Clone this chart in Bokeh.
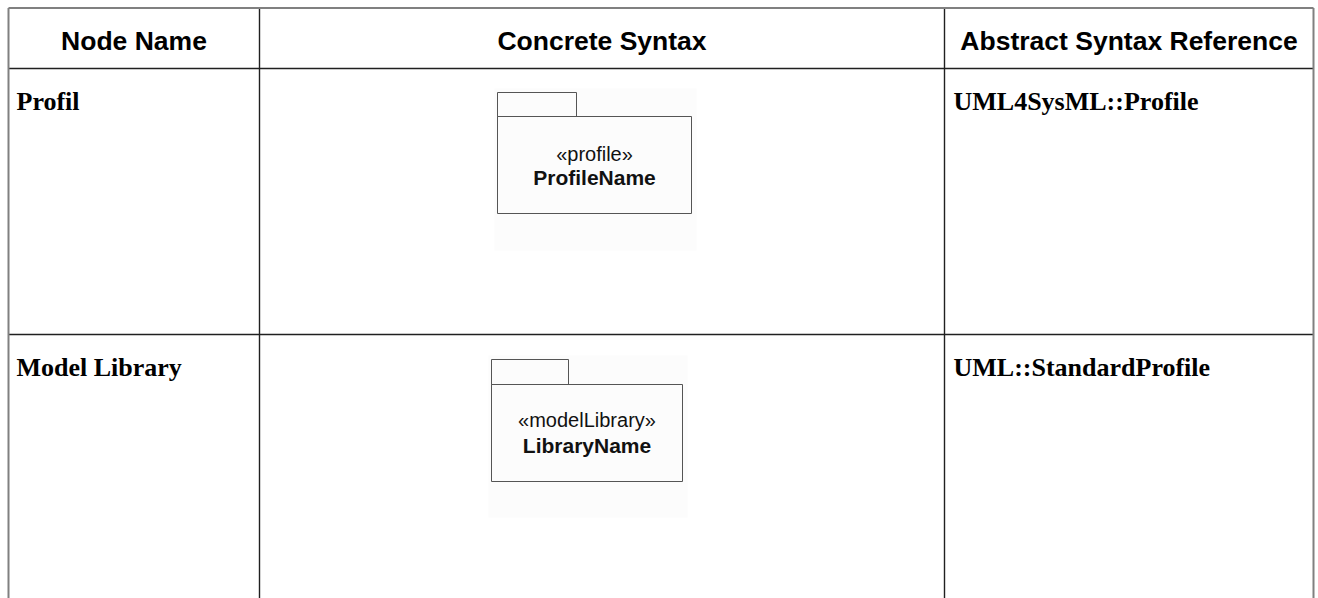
from bokeh.plotting import figure
from bokeh.models import Range1d, ColumnDataSource
from bokeh.core.properties import value
from bokeh.embed import file_html
from bokeh.resources import INLINE

# ---- data ----
headers = ["Node Name", "Concrete Syntax", "Abstract Syntax Reference"]
node_names = ["Profil", "Model Library"]
stereotypes = ["«profile»", "«modelLibrary»"]
element_names = ["ProfileName", "LibraryName"]
abstract_refs = ["UML4SysML::Profile", "UML::StandardProfile"]

# ---- layout (screen pixel coordinates) ----
W, H = 1318, 598
col_x = [8, 259, 944, 1313]
row_y = [7.5, 68, 334]
table_bottom = 620
pkg_boxes = [  # left, tab_right, tab_top, box_top, right, bottom, faint_bottom
    (497, 576, 92, 116, 691, 213, 250),
    (491, 568, 359, 384, 682, 481, 517),
]
row_text_baseline = [101, 367]
stereo_y = [153, 419]
name_y = [177, 445]

p = figure(width=W, height=H, output_backend="svg", toolbar_location=None,
           x_range=Range1d(0, W), y_range=Range1d(H, 0),
           min_border=0, background_fill_color="white", border_fill_color="white")
p.axis.visible = False
p.grid.visible = False
p.outline_line_color = None

# faint scan background behind the package pictures
for (l, tr, tt, bt, r, b, fb) in pkg_boxes:
    p.quad(left=[l - 3], right=[r + 5], top=[tt - 4], bottom=[fb], fill_color="#fcfcfc",
           line_color=None)

# table lines: inner
inner = dict(x0=[col_x[1], col_x[2], col_x[0], col_x[0]],
             y0=[row_y[0], row_y[0], row_y[1], row_y[2]],
             x1=[col_x[1], col_x[2], col_x[3], col_x[3]],
             y1=[table_bottom, table_bottom, row_y[1], row_y[2]])
p.segment(source=ColumnDataSource(inner), x0="x0", y0="y0", x1="x1", y1="y1",
          line_color="#202020", line_width=1.4)
# outer border (grey)
outer = dict(x0=[col_x[0], col_x[3], col_x[0]],
             y0=[row_y[0], row_y[0], row_y[0]],
             x1=[col_x[0], col_x[3], col_x[3]],
             y1=[table_bottom, table_bottom, row_y[0]])
p.segment(source=ColumnDataSource(outer), x0="x0", y0="y0", x1="x1", y1="y1",
          line_color="#808080", line_width=2)

# headers
hx = [(col_x[i] + col_x[i + 1]) / 2 for i in range(3)]
p.text(x=hx, y=[40] * 3, text=headers, text_font=value("Liberation Sans"),
       text_font_style="bold", text_font_size="26.5px", text_align="center",
       text_baseline="alphabetic", text_color="black")

# node names & abstract refs
p.text(x=[16] * 2, y=row_text_baseline, text=node_names, text_font=value("Liberation Serif"),
       text_font_style="bold", text_font_size="26px", text_align="left",
       text_baseline="alphabetic", text_color="black")
p.text(x=[953] * 2, y=row_text_baseline, text=abstract_refs, text_font=value("Liberation Serif"),
       text_font_style="bold", text_font_size="26px", text_align="left",
       text_baseline="alphabetic", text_color="black")

# package shapes
for (l, tr, tt, bt, r, b, fb) in pkg_boxes:
    p.quad(left=[l], right=[tr], top=[tt], bottom=[bt],
           fill_color=None, line_color="#555555", line_width=1)
    p.quad(left=[l], right=[r], top=[bt], bottom=[b],
           fill_color=None, line_color="#555555", line_width=1)

cx = [(b[0] + b[4]) / 2 for b in pkg_boxes]
p.text(x=cx, y=stereo_y, text=stereotypes, text_font=value("Liberation Sans"),
       text_font_size="20px", text_align="center", text_baseline="middle", text_color="#111111")
p.text(x=cx, y=name_y, text=element_names, text_font=value("Liberation Sans"),
       text_font_style="bold", text_font_size="21px", text_align="center",
       text_baseline="middle", text_color="#111111")

open("out.html", "w").write(file_html(p, INLINE))
